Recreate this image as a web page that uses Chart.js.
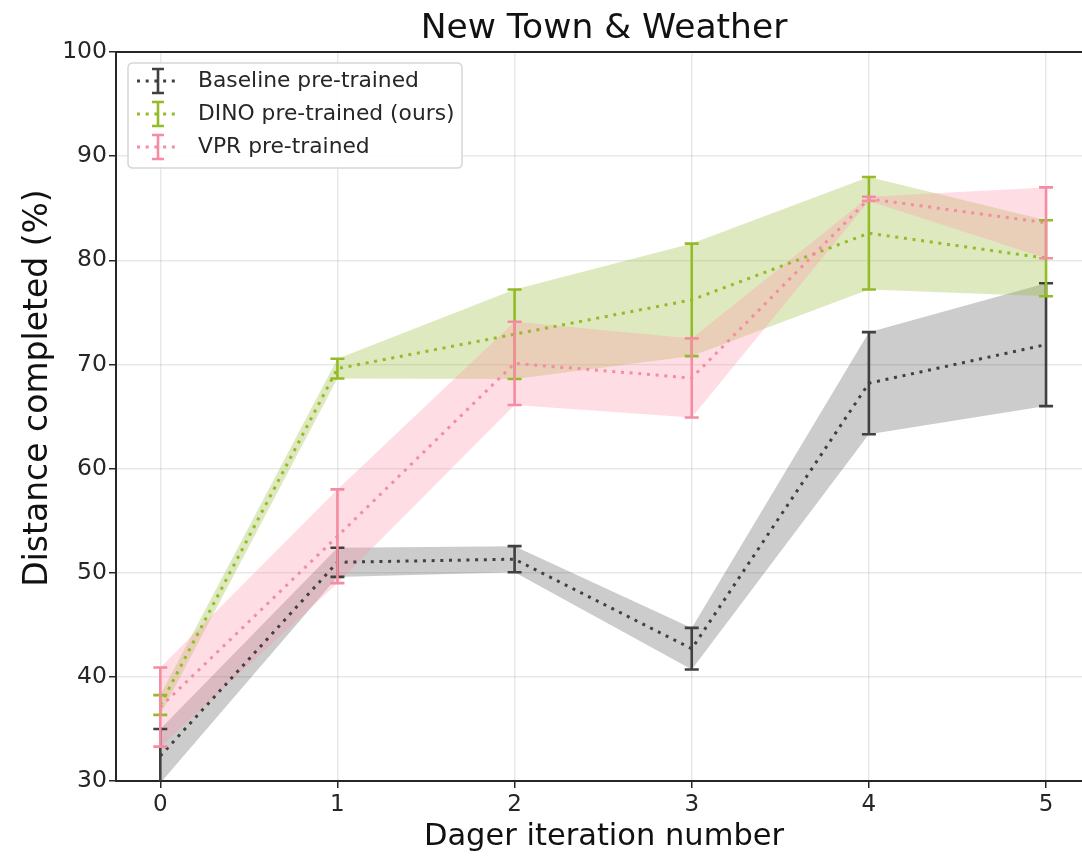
<!DOCTYPE html>
<html>
<head>
<meta charset="utf-8">
<script src="https://cdn.jsdelivr.net/npm/chart.js@4.4.1/dist/chart.umd.min.js"></script>
<style>
html,body{margin:0;padding:0;background:#fff;}
#wrap{width:1082px;height:856px;}
</style>
</head>
<body>
<div id="wrap"><canvas id="c" width="1082" height="856"></canvas></div>
<script>
// ---- data ----
const iterations = [0, 1, 2, 3, 4, 5];
const yTicks = [30, 40, 50, 60, 70, 80, 90, 100];
const baselineMean = [32.4, 51.0, 51.3, 42.7, 68.2, 71.9];
const baselineErr  = [2.6, 1.4, 1.25, 2.0, 4.9, 5.9];
const dinoMean = [37.3, 69.6, 72.9, 76.2, 82.6, 80.2];
const dinoErr  = [0.95, 0.95, 4.3, 5.4, 5.4, 3.65];
const vprMean = [37.1, 53.5, 70.1, 68.7, 85.9, 83.6];
const vprErr  = [3.8, 4.5, 4.0, 3.8, 0.2, 3.4];
const seriesNames = ['Baseline pre-trained', 'DINO pre-trained (ours)', 'VPR pre-trained'];
const titleText = 'New Town & Weather';
const xLabel = 'Dager iteration number';
const yLabel = 'Distance completed (%)';

const series = [
  {name: seriesNames[0], mean: baselineMean, err: baselineErr, line: 'rgb(64,64,64)', band: 'rgba(0,0,0,0.2)'},
  {name: seriesNames[1], mean: dinoMean, err: dinoErr, line: 'rgb(148,187,40)', band: 'rgba(148,182,45,0.3)'},
  {name: seriesNames[2], mean: vprMean, err: vprErr, line: 'rgb(244,140,162)', band: 'rgba(255,142,165,0.3)'}
];

const pts = (arr, sign, err) => iterations.map((x, i) => ({x: x, y: arr[i] + sign * (err ? err[i] : 0)}));

const datasets = [];
series.forEach((s, k) => {
  datasets.push({label: s.name + ' lo', data: pts(s.mean, -1, s.err), borderColor: 'transparent', borderWidth: 0, pointRadius: 0, fill: false, order: 20 - k});
  datasets.push({label: s.name + ' hi', data: pts(s.mean, 1, s.err), borderColor: 'transparent', borderWidth: 0, pointRadius: 0, fill: '-1', backgroundColor: s.band, order: 20 - k});
});
series.forEach((s, k) => {
  datasets.push({label: s.name, data: pts(s.mean, 0), borderColor: s.line, borderWidth: 3, borderDash: [3, 5.7], borderCapStyle: 'butt', pointRadius: 0, fill: false, order: 5 - k});
});

const FONT = "'DejaVu Sans', sans-serif";

const decor = {
  id: 'decor',
  afterDatasetsDraw(chart) {
    const {ctx, chartArea: a, scales: {x, y}} = chart;
    // error bars
    ctx.save();
    ctx.beginPath(); ctx.rect(a.left, a.top - 2, a.right - a.left, a.bottom - a.top + 2); ctx.clip();
    series.forEach(s => {
      ctx.strokeStyle = s.line; ctx.lineWidth = 2.6; ctx.setLineDash([]);
      iterations.forEach((it, i) => {
        const px = x.getPixelForValue(it);
        const t = y.getPixelForValue(s.mean[i] + s.err[i]);
        const b = y.getPixelForValue(s.mean[i] - s.err[i]);
        ctx.beginPath();
        ctx.moveTo(px, t); ctx.lineTo(px, b);
        ctx.moveTo(px - 7, t); ctx.lineTo(px + 7, t);
        ctx.moveTo(px - 7, b); ctx.lineTo(px + 7, b);
        ctx.stroke();
      });
    });
    ctx.restore();
  },
  afterDraw(chart) {
    const {ctx, chartArea: a} = chart;
    ctx.save();
    // top spine
    ctx.strokeStyle = '#262626'; ctx.lineWidth = 2;
    ctx.beginPath(); ctx.moveTo(a.left - 1, a.top); ctx.lineTo(a.right, a.top); ctx.stroke();
    // title
    ctx.fillStyle = '#111';
    ctx.textAlign = 'center'; ctx.textBaseline = 'middle';
    ctx.font = '34.5px ' + FONT;
    ctx.fillText(titleText, 604, 29);
    // x label
    ctx.font = '30.5px ' + FONT;
    ctx.fillText(xLabel, 604, 837);
    // y label
    ctx.save();
    ctx.font = '33px ' + FONT;
    ctx.translate(38, 388); ctx.rotate(-Math.PI / 2);
    ctx.fillText(yLabel, 0, 0);
    ctx.restore();
    // legend
    const lx = 128, ly = 63, lw = 334, lh = 105, r = 5;
    ctx.beginPath();
    ctx.moveTo(lx + r, ly); ctx.lineTo(lx + lw - r, ly); ctx.quadraticCurveTo(lx + lw, ly, lx + lw, ly + r);
    ctx.lineTo(lx + lw, ly + lh - r); ctx.quadraticCurveTo(lx + lw, ly + lh, lx + lw - r, ly + lh);
    ctx.lineTo(lx + r, ly + lh); ctx.quadraticCurveTo(lx, ly + lh, lx, ly + lh - r);
    ctx.lineTo(lx, ly + r); ctx.quadraticCurveTo(lx, ly, lx + r, ly);
    ctx.closePath();
    ctx.fillStyle = 'rgba(255,255,255,0.85)'; ctx.fill();
    ctx.strokeStyle = '#d6d6d6'; ctx.lineWidth = 1.5; ctx.stroke();
    const rows = [81, 114, 147];
    series.forEach((s, k) => {
      const cy = rows[k];
      ctx.strokeStyle = s.line;
      ctx.lineWidth = 3; ctx.setLineDash([3, 5.7]);
      ctx.beginPath(); ctx.moveTo(137, cy); ctx.lineTo(179, cy); ctx.stroke();
      ctx.setLineDash([]); ctx.lineWidth = 2.6;
      ctx.beginPath();
      ctx.moveTo(158, cy - 12); ctx.lineTo(158, cy + 12);
      ctx.moveTo(152, cy - 12); ctx.lineTo(164, cy - 12);
      ctx.moveTo(152, cy + 12); ctx.lineTo(164, cy + 12);
      ctx.stroke();
      ctx.fillStyle = '#262626'; ctx.textAlign = 'left'; ctx.textBaseline = 'middle';
      ctx.font = '21.8px ' + FONT;
      ctx.fillText(s.name, 198, cy);
    });
    ctx.restore();
  }
};

new Chart(document.getElementById('c'), {
  type: 'line',
  data: {datasets: datasets},
  options: {
    responsive: false,
    animation: false,
    devicePixelRatio: 1,
    layout: {padding: {top: 52, right: 0, left: 0, bottom: 0}},
    plugins: {legend: {display: false}, tooltip: {enabled: false}, title: {display: false}},
    scales: {
      x: {
        type: 'linear', min: -0.25, max: 5.203,
        afterFit: s => { s.height = 75; },
        afterBuildTicks: s => { s.ticks = iterations.map(v => ({value: v})); },
        ticks: {font: {family: FONT, size: 23}, color: '#262626', padding: 3, maxRotation: 0},
        grid: {color: 'rgba(0,0,0,0.09)', lineWidth: 1.5, tickColor: '#262626', tickLength: 7, tickWidth: 1.5},
        border: {color: '#262626', width: 2}
      },
      y: {
        type: 'linear', min: 30, max: 100,
        afterFit: s => { s.width = 116; },
        afterBuildTicks: s => { s.ticks = yTicks.map(v => ({value: v})); },
        ticks: {font: {family: FONT, size: 23.5}, color: '#262626', padding: 2},
        grid: {color: 'rgba(0,0,0,0.09)', lineWidth: 1.5, tickColor: '#262626', tickLength: 7, tickWidth: 1.5},
        border: {color: '#262626', width: 2}
      }
    }
  },
  plugins: [decor]
});
</script>
</body>
</html>
